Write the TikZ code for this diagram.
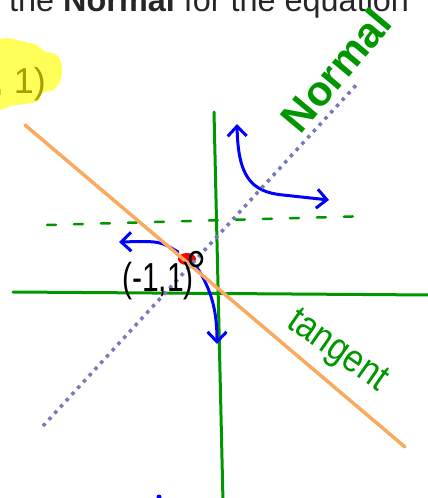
\documentclass[tikz,border=0pt]{standalone}
\usepackage{fontspec}
\setmainfont{Liberation Sans}
\usetikzlibrary{arrows.meta}
\definecolor{skgreen}{RGB}{0,150,0}
\definecolor{skblue}{RGB}{0,0,255}
\definecolor{skorange}{RGB}{250,170,95}
\definecolor{skpurple}{RGB}{120,120,190}
\definecolor{skyellow}{RGB}{255,255,90}
\definecolor{skolive}{RGB}{165,160,0}

\begin{document}
\begin{tikzpicture}[x=1pt,y=-1pt,
  axisline/.style={skgreen,line width=3pt,line cap=round},
  pen/.style={skblue,line width=3pt,line cap=round,line join=round},
  barb/.tip={Straight Barb[length=10pt,width=19pt,line width=3pt]},
  hand/.style={skgreen,inner sep=0pt}]
\useasboundingbox (0,0) rectangle (428,498);
% highlight and heading
\fill[skyellow] plot[smooth cycle,tension=0.7] coordinates {(-6,44) (30,43) (44,51) (58,56) (62,72) (56,88) (42,93) (38,101) (15,105) (-6,104)};
\node[anchor=base east,inner sep=0pt,text=skolive,font=\fontsize{36}{40}\selectfont] (ptval) at (46,93) {, 1)};
\node[anchor=base west,inner sep=0pt,text=black!85,font=\fontsize{32.4}{38}\selectfont] (heading) at (9,11) {the \textbf{Normal} for the equation};
% axes
\coordinate (yTop) at (214,112);
\coordinate (yBot) at (223,502);
\coordinate (xL) at (13,292);
\coordinate (xR) at (432,295);
\coordinate (levL) at (47,225);
\coordinate (levR) at (370,216);
\draw[axisline] (yTop) -- (yBot);
\draw[axisline] (xL) -- (xR);
\draw[axisline,line width=2.5pt,dash pattern=on 9pt off 18pt] (levL) -- (levR);
% blue arrows
\coordinate (uTop) at (237,124);
\coordinate (uRight) at (329,200);
\coordinate (lStart) at (178,252);
\coordinate (lEnd) at (119,242);
\coordinate (dStart) at (196,266);
\coordinate (dEnd) at (217,344);
\draw[pen,barb-barb] (uTop) .. controls (238,175) and (250,192) .. (283,195) -- (uRight);
\draw[pen,-barb] (lStart) .. controls (160,241) .. (lEnd);
\draw[pen,-barb] (dStart) .. controls (212,290) and (217,312) .. (dEnd);
\fill[skblue] (159,497) circle (2.5);
% the point
\fill[red] (187,259) ellipse (9 and 6);
% tangent and normal
\coordinate (tanA) at (25,125);
\coordinate (tanB) at (405,447);
\coordinate (norA) at (43,426);
\coordinate (norB) at (359,82);
\draw[skorange,line width=3.5pt,line cap=round] (tanA) -- (tanB);
\draw[skpurple,line width=3.5pt,dash pattern=on 3.5pt off 5pt] (norA) -- (norB);
\draw[black,line width=2.5pt] (196,259) ellipse (6 and 7);
\node[inner sep=0pt,yscale=1.35,font=\fontsize{30}{36}\selectfont] (ptlabel) at (158,281) {(-1,1)};
% labels
\node[hand,rotate=50,font=\bfseries\fontsize{42}{48}\selectfont] (normlabel) at (336,70) {Normal};
\node[hand,rotate=-35,yscale=1.15,font=\fontsize{34}{40}\selectfont] (tanlabel) at (337,352) {tangent};
\end{tikzpicture}
\end{document}
